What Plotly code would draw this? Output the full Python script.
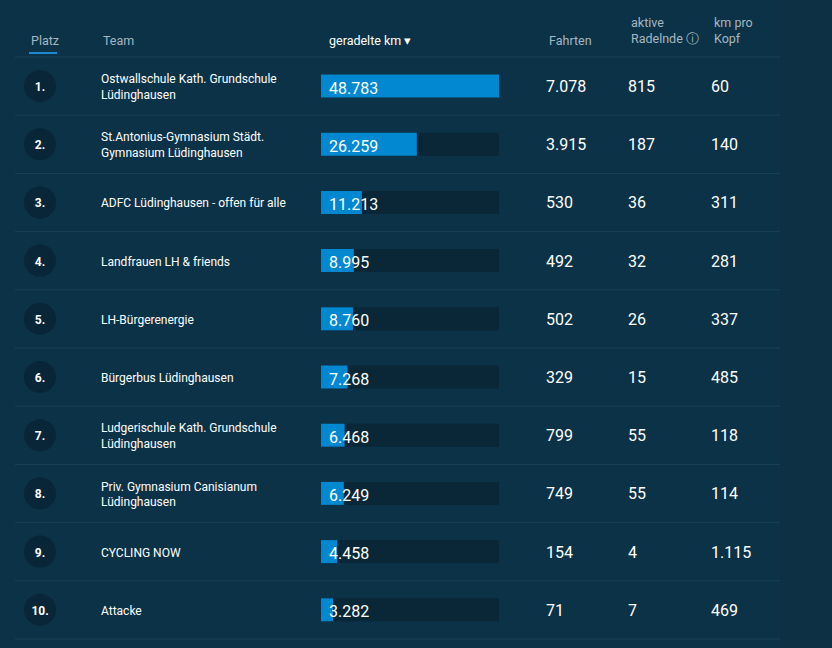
import plotly.graph_objects as go

ranks = ["1.", "2.", "3.", "4.", "5.", "6.", "7.", "8.", "9.", "10."]
teams = [
    "Ostwallschule Kath. Grundschule<br>Lüdinghausen",
    "St.Antonius-Gymnasium Städt.<br>Gymnasium Lüdinghausen",
    "ADFC Lüdinghausen - offen für alle",
    "Landfrauen LH & friends",
    "LH-Bürgerenergie",
    "Bürgerbus Lüdinghausen",
    "Ludgerischule Kath. Grundschule<br>Lüdinghausen",
    "Priv. Gymnasium Canisianum<br>Lüdinghausen",
    "CYCLING NOW",
    "Attacke",
]
km = [48783, 26259, 11213, 8995, 8760, 7268, 6468, 6249, 4458, 3282]
fahrten = ["7.078", "3.915", "530", "492", "502", "329", "799", "749", "154", "71"]
aktive = ["815", "187", "36", "32", "26", "15", "55", "55", "4", "7"]
kopf = ["60", "140", "311", "281", "337", "485", "118", "114", "1.115", "469"]

BG = "#0b3246"
FONT = "Roboto"


def fmt(v):
    return f"{v:,}".replace(",", ".")


row_y = [86 + 58.2 * i for i in range(len(km))]
text_y = [y + 2 for y in row_y]

fig = go.Figure()

# rank circles, team names and the plain number columns
fig.add_trace(go.Scatter(x=[40] * len(km), y=row_y, mode="markers", 
                         marker=dict(size=32, color="#082638"), hoverinfo="skip"))
fig.add_trace(go.Scatter(x=[40] * len(km), y=text_y, mode="text", text=[f"<b>{r}</b>" for r in ranks],
                         textfont=dict(color="white", size=12, family=FONT), hoverinfo="skip"))
fig.add_trace(go.Scatter(x=[101] * len(km), y=text_y, mode="text", text=teams,
                         textposition="middle right",
                         textfont=dict(color="white", size=12, family=FONT), hoverinfo="skip"))
for xpos, col in [(546, fahrten), (628, aktive), (711, kopf)]:
    fig.add_trace(go.Scatter(x=[xpos] * len(km), y=text_y, mode="text", text=col,
                             textposition="middle right",
                             textfont=dict(color="white", size=16, family=FONT), hoverinfo="skip"))

# track bars and value bars on their own axis
fig.add_trace(go.Bar(y=row_y, x=[max(km)] * len(km), orientation="h", width=23,
                     marker=dict(color="#0a2737", line_width=0), xaxis="x2", yaxis="y",
                     hoverinfo="skip"))
fig.add_trace(go.Bar(y=row_y, x=km, orientation="h", width=23,
                     marker=dict(color="#0288d1", line_width=0), xaxis="x2", yaxis="y"))

shapes = [dict(type="rect", xref="paper", yref="paper", x0=780 / 832, x1=1, y0=0, y1=1,
               fillcolor="#0e3044", line_width=0, layer="below")]
for i in range(len(km) + 1):
    yy = 57 + 58.2 * i
    shapes.append(dict(type="line", xref="x", yref="y", x0=15, x1=780, y0=yy, y1=yy,
                       line=dict(color="#1a4155", width=1)))
shapes.append(dict(type="line", xref="x", yref="y", x0=29, x1=57, y0=53, y1=53,
                   line=dict(color="#1e88d0", width=2)))

hdr = "#a7b7c1"
anns = [
    dict(x=29, y=40, text="Platz", color=hdr, size=12.5),
    dict(x=101, y=40, text="Team", color=hdr, size=12.5),
    dict(x=327, y=40, text="geradelte km ▾", color="white", size=12.5),
    dict(x=547, y=40, text="Fahrten", color=hdr, size=12.5),
    dict(x=629, y=30, text="aktive<br>Radelnde ⓘ", color=hdr, size=12.5),
    dict(x=712, y=30, text="km pro<br>Kopf", color=hdr, size=12.5),
]
anns += [dict(x=327, y=yy, text=fmt(v), color="white", size=16) for yy, v in zip(text_y, km)]
annotations = [dict(x=a["x"], y=a["y"], text=a["text"], xref="x", yref="y", showarrow=False,
                    xanchor="left", yanchor="middle", align="left",
                    font=dict(color=a["color"], size=a["size"], family=FONT)) for a in anns]

fig.update_layout(
    width=832, height=648, margin=dict(l=0, r=0, t=0, b=0),
    paper_bgcolor=BG, plot_bgcolor=BG, showlegend=False, barmode="overlay",
    xaxis=dict(range=[0, 832], visible=False, fixedrange=True),
    xaxis2=dict(domain=[321 / 832, 499 / 832], range=[0, max(km)], visible=False, anchor="y"),
    yaxis=dict(range=[648, 0], visible=False),
    shapes=shapes, annotations=annotations,
)
fig.write_html("out.html", config={"displayModeBar": False},
               post_script="document.body.style.margin='0';"
               "document.body.style.background='#0e3044';")
